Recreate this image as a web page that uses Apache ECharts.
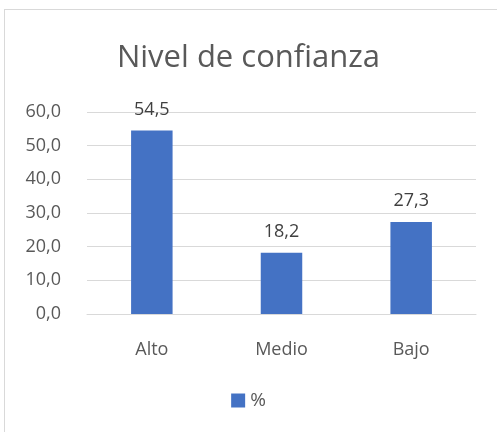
<!DOCTYPE html>
<html>
<head>
<meta charset="utf-8">
<script src="https://cdn.jsdelivr.net/npm/echarts@6/dist/echarts.min.js"></script>
<style>
  html, body { margin: 0; padding: 0; background: #fff; }
  #frame { position: absolute; left: 4px; top: 9px; width: 497px; height: 430px; border: 1px solid #d9d9d9; box-sizing: border-box; }
  #chart { position: absolute; left: 0; top: 0; width: 497px; height: 432px; }
</style>
</head>
<body>
<div id="frame"></div>
<div id="chart"></div>
<script>
var categories = ['Alto', 'Medio', 'Bajo'];
var values = [54.5, 18.2, 27.3];
var seriesName = '%';
var titleText = 'Nivel de confianza';

function fmt(v) { return v.toFixed(1).replace('.', ','); }

var chart = echarts.init(document.getElementById('chart'));
chart.setOption({
  backgroundColor: 'transparent',
  animation: false,
  title: { text: titleText, left: 'center', top: 38, textStyle: { color: '#595959', fontSize: 31, fontWeight: 'normal', fontFamily: 'Open Sans' } },
  legend: { bottom: 17, left: 'center', itemWidth: 14, itemHeight: 14, icon: 'rect', textStyle: { color: '#595959', fontSize: 19, fontFamily: 'Open Sans' }, data: [seriesName] },
  grid: { left: 87, right: 21, top: 112, bottom: 118 },
  xAxis: {
    type: 'category', data: categories,
    axisLine: { lineStyle: { color: '#d9d9d9' } }, axisTick: { show: false },
    axisLabel: { color: '#595959', fontSize: 18, fontFamily: 'Open Sans', margin: 27 }
  },
  yAxis: {
    type: 'value', min: 0, max: 60, interval: 10,
    axisLine: { show: false }, axisTick: { show: false },
    axisLabel: { color: '#595959', fontSize: 18, fontFamily: 'Open Sans', margin: 26, formatter: fmt },
    splitLine: { lineStyle: { color: '#d9d9d9' } }
  },
  series: [{
    name: seriesName, type: 'bar', data: values, barWidth: '32%',
    itemStyle: { color: '#4472C4' },
    label: { show: true, position: 'top', distance: 12, color: '#404040', fontSize: 18, fontFamily: 'Open Sans', formatter: function(p) { return fmt(p.value); } }
  }]
});
</script>
</body>
</html>
